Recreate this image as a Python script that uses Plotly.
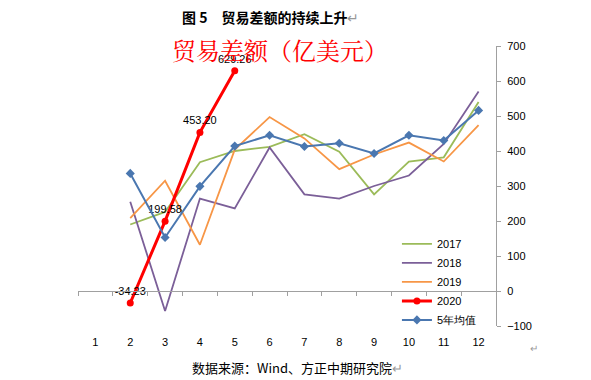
import plotly.graph_objects as go

months = [1, 2, 3, 4, 5, 6, 7, 8, 9, 10, 11, 12]
x_labels = ["1", "2", "3", "4", "5", "6", "7", "8", "9", "10", "11", "12"]

m_hist = [2, 3, 4, 5, 6, 7, 8, 9, 10, 11, 12]
y2017 = [190, 226, 368, 400, 412, 448, 398, 276, 370, 382, 540]
y2018 = [255, -57, 264, 236, 410, 276, 264, 300, 330, 420, 570]
y2019 = [208, 315, 132, 404, 497, 436, 348, 390, 424, 370, 474]
m2020 = [2, 3, 4, 5]
y2020 = [-34.23, 199.58, 453.20, 629.26]
y2020_text = ["-34.23", "199.58", "453.20", "629.26"]
yavg = [336, 153, 299, 414, 445, 413, 422, 393, 445, 430, 516]

y_ticks = [-100, 0, 100, 200, 300, 400, 500, 600, 700]

fig = go.Figure()
fig.add_trace(go.Scatter(x=m_hist, y=y2017, name="2017", mode="lines",
                         line=dict(color="#9BBB59", width=1.8)))
fig.add_trace(go.Scatter(x=m_hist, y=y2018, name="2018", mode="lines",
                         line=dict(color="#7B5F98", width=1.8)))
fig.add_trace(go.Scatter(x=m_hist, y=y2019, name="2019", mode="lines",
                         line=dict(color="#F79646", width=1.8)))
fig.add_trace(go.Scatter(x=m2020, y=y2020, name="2020", mode="lines+markers+text",
                         text=y2020_text, textposition="top center",
                         textfont=dict(family="Arial, Liberation Sans", size=11, color="#000000"),
                         line=dict(color="#FF0000", width=3),
                         marker=dict(symbol="circle", size=7, color="#FF0000")))
fig.add_trace(go.Scatter(x=m_hist, y=yavg, name="5年均值", mode="lines+markers",
                         line=dict(color="#4A77B0", width=2),
                         marker=dict(symbol="diamond", size=7, color="#4A77B0")))

# zero-line axis with boundary ticks
fig.add_trace(go.Scatter(x=[None], y=[None], xaxis="x2", showlegend=False, hoverinfo="skip"))

fig.update_layout(
    width=583, height=372,
    margin=dict(l=70, r=95, t=38, b=54),
    paper_bgcolor="white", plot_bgcolor="white",
    font=dict(family="Arial, Liberation Sans", size=11, color="#000000"),
    showlegend=True,
    legend=dict(x=0.763, y=0.345, xanchor="left", yanchor="top",
                bgcolor="rgba(0,0,0,0)", font=dict(size=11), tracegroupgap=0,
                itemwidth=30),
    xaxis=dict(range=[0.5, 12.5], tickvals=months, ticktext=x_labels,
               showgrid=False, zeroline=False, showline=False, ticks="",
               ticklabelstandoff=8, tickfont=dict(size=11)),
    xaxis2=dict(range=[0.5, 12.5], overlaying="x", anchor="free", position=0.125,
                showgrid=False, zeroline=False, showline=True, linecolor="#A0A0A0",
                linewidth=1, ticks="outside", ticklen=4, tickcolor="#A0A0A0",
                tick0=0.5, dtick=1, showticklabels=False),
    yaxis=dict(range=[-100, 700], tickvals=y_ticks, side="right",
               showgrid=False, zeroline=False, showline=True, linecolor="#A0A0A0",
               linewidth=1, ticks="outside", ticklen=4, tickcolor="#A0A0A0",
               ticklabelstandoff=4, tickfont=dict(size=11)),
)

fig.add_annotation(text="<b>图 5　贸易差额的持续上升</b><span style='color:#999'>↵</span>",
                   xref="paper", yref="paper", x=0.46, y=1.0, yshift=29,
                   xanchor="center", yanchor="middle", showarrow=False,
                   font=dict(family="Noto Sans CJK SC", size=14, color="#000000"))
fig.add_annotation(text="贸易差额（亿美元）", xref="paper", yref="paper",
                   x=0.483, y=1.0, yshift=-3, xanchor="center", yanchor="middle",
                   showarrow=False,
                   font=dict(family="Noto Serif CJK SC, Noto Sans CJK SC", size=24, color="#FF0000"))
fig.add_annotation(text="数据来源：Wind、方正中期研究院<span style='color:#999'>↵</span>",
                   xref="paper", yref="paper", x=0.526, y=0, yshift=-41,
                   xanchor="center", yanchor="middle", showarrow=False,
                   font=dict(family="Noto Sans CJK SC", size=13, color="#000000"))
fig.add_annotation(text="↵", xref="paper", yref="paper", x=1.09, y=0, yshift=-22,
                   xanchor="center", yanchor="middle", showarrow=False,
                   font=dict(size=10, color="#999999"))

fig.write_html("out.html")
